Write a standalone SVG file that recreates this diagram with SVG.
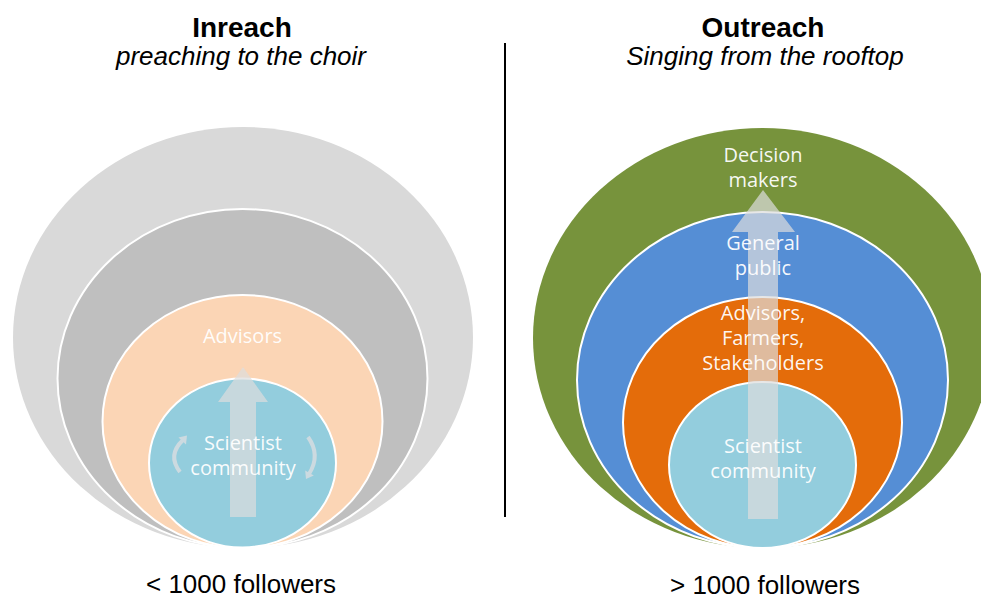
<svg xmlns="http://www.w3.org/2000/svg" width="981" height="599" viewBox="0 0 981 599">
  <style>
    .title { font-family: "Liberation Sans", Arial, sans-serif; font-size: 28px; font-weight: bold; fill: #000; text-anchor: middle; }
    .sub { font-family: "Liberation Sans", Arial, sans-serif; font-size: 26px; font-style: italic; fill: #000; text-anchor: middle; }
    .foot { font-family: "Liberation Sans", Arial, sans-serif; font-size: 26px; fill: #000; text-anchor: middle; }
    .lbl { font-family: "Open Sans", "Noto Sans", sans-serif; font-size: 20px; fill: #FFFFFF; fill-opacity: 0.94; text-anchor: middle; }
    .ring { stroke: #FFFFFF; stroke-width: 2; }
    .bigarrow { fill: #DDDDDD; fill-opacity: 0.7; }
    .cyc { fill: none; stroke: #CCDAE0; stroke-width: 4; stroke-linecap: butt; }
    .cychead { fill: #CCDAE0; }
  </style>
  <rect x="0" y="0" width="981" height="599" fill="#FFFFFF"/>

  <g id="title-inreach">
    <text class="title" x="242" y="37">Inreach</text>
    <text class="sub" x="241" y="65">preaching to the choir</text>
  </g>
  <g id="title-outreach">
    <text class="title" x="763" y="37">Outreach</text>
    <text class="sub" x="765" y="65">Singing from the rooftop</text>
  </g>

  <line id="divider" x1="505" y1="43" x2="505" y2="517" stroke="#000000" stroke-width="2"/>

  <!-- Left: Inreach -->
  <g id="left-outer">
    <ellipse cx="243" cy="337.5" rx="230" ry="210.5" fill="#D9D9D9"/>
  </g>
  <g id="left-second">
    <ellipse class="ring" cx="242.5" cy="378.5" rx="185" ry="169.5" fill="#BFBFBF"/>
  </g>
  <g id="left-advisors">
    <ellipse class="ring" cx="242.5" cy="421.5" rx="140" ry="126.5" fill="#FBD5B5"/>
    <text class="lbl" x="242.5" y="343">Advisors</text>
  </g>
  <g id="left-scientists">
    <ellipse class="ring" cx="242.5" cy="463" rx="93.5" ry="84.5" fill="#93CDDD"/>
  </g>

  <g id="left-connectors">
    <polygon class="bigarrow" points="243,367 268,402 256,402 256,517 230,517 230,402 218,402"/>
    <path class="cyc" d="M180,472 Q167,455 183,440"/>
    <polygon class="cychead" points="187,435.5 186,444.5 178.5,437.5"/>
    <path class="cyc" d="M308,437 Q321,455 309,474"/>
    <polygon class="cychead" points="306,479 313.8,475.5 305.2,470.5"/>
  </g>
  <g id="left-scientists-label">
    <text class="lbl" x="243" y="450">Scientist</text>
    <text class="lbl" x="243" y="475">community</text>
  </g>

  <!-- Right: Outreach -->
  <g id="right-decision">
    <ellipse cx="762.5" cy="338" rx="229.5" ry="210" fill="#77933C"/>
    <text class="lbl" x="763" y="162">Decision</text>
    <text class="lbl" x="763" y="187">makers</text>
  </g>
  <g id="right-public">
    <ellipse class="ring" cx="762.5" cy="380" rx="185.5" ry="168" fill="#558ED5"/>
  </g>
  <g id="right-advisors">
    <ellipse class="ring" cx="762.5" cy="422.5" rx="139.5" ry="125.5" fill="#E46C0A"/>
  </g>
  <g id="right-scientists">
    <ellipse class="ring" cx="762.5" cy="465" rx="93.5" ry="83" fill="#93CDDD"/>
  </g>

  <g id="right-connectors">
    <polygon class="bigarrow" points="763,190 795,232 778,232 778,519 748,519 748,232 732,232"/>
  </g>
  <g id="right-labels">
    <text class="lbl" x="763" y="250">General</text>
    <text class="lbl" x="763" y="275">public</text>
    <text class="lbl" x="763" y="320">Advisors,</text>
    <text class="lbl" x="763" y="345">Farmers,</text>
    <text class="lbl" x="763" y="370">Stakeholders</text>
    <text class="lbl" x="763" y="453">Scientist</text>
    <text class="lbl" x="763" y="478">community</text>
  </g>

  <g id="footers">
    <text class="foot" x="241" y="593">&lt; 1000 followers</text>
    <text class="foot" x="765" y="594">&gt; 1000 followers</text>
  </g>
</svg>
